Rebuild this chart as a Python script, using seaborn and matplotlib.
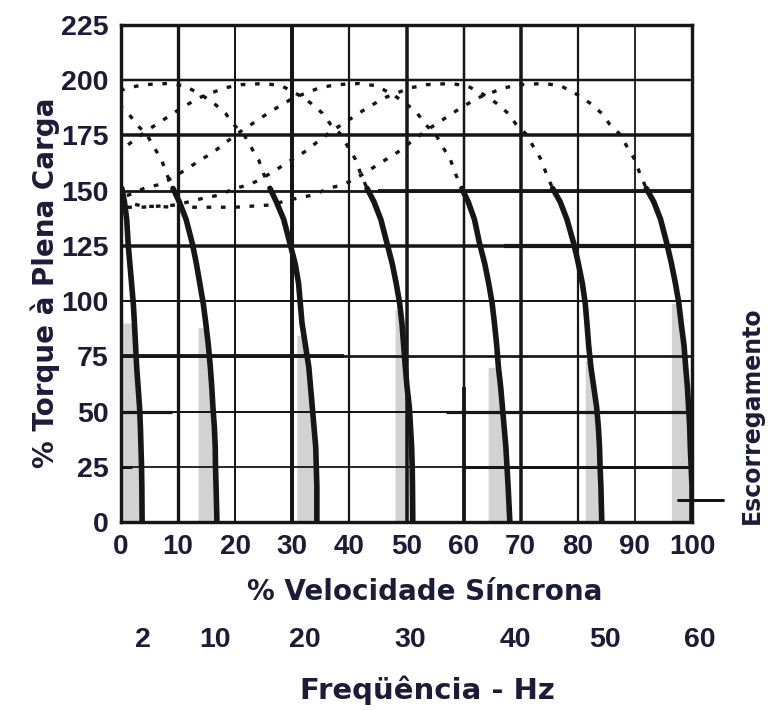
import numpy as np
import pandas as pd
import matplotlib
matplotlib.use("Agg")
import matplotlib.pyplot as plt
import matplotlib.transforms as mtransforms
import seaborn as sns

# ---------------- data ----------------
freq_labels = ["2", "10", "20", "30", "40", "50", "60"]
freq_label_speed = [3.9, 16.5, 32.2, 50.6, 69.0, 84.8, 101.4]
x_ticks = [0, 10, 20, 30, 40, 50, 60, 70, 80, 90, 100]
y_ticks = [0, 25, 50, 75, 100, 125, 150, 175, 200, 225]

# torque levels (y) at which the solid curves were read
solid_torque = [151, 145, 137, 126, 117, 108, 99, 90, 80, 70, 61, 52, 43, 34, 25, 16, 0]
# speed (x) of each solid curve at those torque levels
solid_2hz = [0.15, 0.6, 1.0, 1.25, 1.55, 1.85, 2.15, 2.35, 2.55, 2.75, 3.0, 3.25, 3.4, 3.5, 3.6, 3.65, 3.7]
solid_10hz = [9.1, 10.2, 11.4, 12.5, 13.2, 13.8, 14.4, 14.85, 15.3, 15.65, 15.9, 16.1, 16.35, 16.5, 16.55, 16.65, 16.8]
solid_20hz = [26.1, 27.2, 28.5, 29.6, 30.5, 31.1, 31.4, 31.7, 32.3, 32.9, 33.2, 33.5, 33.8, 34.1, 34.2, 34.3, 34.3]
solid_30hz = [43.1, 44.3, 45.5, 46.6, 47.5, 48.2, 48.8, 49.2, 49.5, 49.8, 50.1, 50.5, 50.7, 50.9, 51.0, 51.05, 51.1]
solid_40hz = [59.7, 60.8, 61.9, 62.8, 63.7, 64.4, 65.0, 65.4, 65.8, 66.1, 66.5, 66.8, 67.1, 67.4, 67.6, 67.8, 68.1]
solid_50hz = [75.6, 76.9, 78.1, 79.3, 80.1, 80.8, 81.3, 81.6, 81.9, 82.3, 82.8, 83.3, 83.6, 83.8, 83.9, 84.05, 84.2]
solid_60hz = [92.0, 93.3, 94.5, 95.6, 96.4, 97.1, 97.7, 98.1, 98.6, 98.9, 99.2, 99.4, 99.6, 99.7, 99.85, 100.0, 100.0]

# dotted part of the torque curve (read on the 60 Hz curve, speed %, torque %)
dot_speed = [0, 4, 10, 20, 26, 31, 33.6, 36.3, 38.7, 40.6, 43, 45.4, 48.5, 51,
             53.6, 56, 58, 60.2, 62.5, 65, 67, 70, 74, 77, 79.9, 82.1, 84.2,
             85.6, 87.4, 88.6, 90, 90.9, 92.0]
dot_torque = [145, 143, 142.5, 142.5, 143.5, 146.7, 148, 151, 152.6, 154.8, 158.5,
              162.5, 167.5, 172.5, 177.5, 181.5, 185, 188.5, 192, 194.5, 196.5,
              198, 198.5, 197.5, 193.5, 189.7, 185, 180, 175.5, 170, 164, 157.5, 151]

# shaded slip areas under each curve
gray_left = [0.3, 13.5, 30.8, 48.0, 64.3, 81.3, 96.4]
gray_top = [90, 88, 84.6, 96, 70, 73, 99]

slip_mark_torque = 10

# ---------------- styling ----------------
sns.set_theme(style="white")
plt.rcParams['font.family'] = ['Liberation Sans', 'DejaVu Sans']
TXT = '#1c1c3a'
INK = '#161616'
PX = 0.72  # points per pixel at 100 dpi

fig = plt.figure(figsize=(7.68, 7.10), dpi=100)
ax = fig.add_axes([121/768, 1-522/710, (692-121)/768, (522-25)/710])

solids = [solid_2hz, solid_10hz, solid_20hz, solid_30hz, solid_40hz, solid_50hz, solid_60hz]

# gray shaded areas
for xs, gl, gt in zip(solids, gray_left, gray_top):
    ys_rev = np.array(solid_torque[::-1], dtype=float)
    xs_rev = np.array(xs[::-1], dtype=float)
    x_at_top = np.interp(gt, ys_rev, xs_rev)
    yy = [gt] + [t for t in solid_torque if t < gt]
    xx = [x_at_top] + [x for x, t in zip(xs, solid_torque) if t < gt]
    ax.fill_betweenx(yy, gl, xx, color='#d2d2d2', lw=0, zorder=1)

# grid
ax.set_xlim(0, 100)
ax.set_ylim(0, 225)
ax.set_xticks(x_ticks)
ax.set_yticks(y_ticks)
ax.grid(True, color=INK, zorder=2)
ax.set_axisbelow(False)
xgrid_px = [0, 3.3, 2, 4, 2.2, 3.5, 2.5, 3.5, 2.2, 1.8, 0]
ygrid_px = [0, 1.8, 2, 2.7, 2, 3.5, 2.8, 3.5, 2.5, 0]
for gl_, w in zip(ax.xaxis.get_gridlines(), xgrid_px):
    gl_.set_linewidth(w * PX)
for gl_, w in zip(ax.yaxis.get_gridlines(), ygrid_px):
    gl_.set_linewidth(w * PX)

# extra heavy rule segments of the original drawing
seg_kw = dict(color=INK, zorder=2, solid_capstyle='butt')
ax.plot([0, 39], [75, 75], lw=3.8*PX, **seg_kw)
ax.plot([0, 9], [50, 50], lw=3.2*PX, **seg_kw)
ax.plot([57, 100], [50, 50], lw=3.2*PX, **seg_kw)
ax.plot([0, 2], [25, 25], lw=3*PX, **seg_kw)
ax.plot([60, 100], [25, 25], lw=3*PX, **seg_kw)
ax.plot([67, 100], [125, 125], lw=4.2*PX, **seg_kw)
ax.plot([45, 100], [150, 150], lw=3.8*PX, **seg_kw)
ax.plot([60, 60], [0, 61], lw=3.8*PX, **seg_kw)

# dotted portions
dot_frames = []
for lab, xs in zip(freq_labels[1:], solids[1:]):
    shift = xs[0] - dot_speed[-1]
    dot_frames.append(pd.DataFrame({'speed': np.array(dot_speed) + shift,
                                    'torque': dot_torque, 'freq': lab}))
dots = pd.concat(dot_frames, ignore_index=True)
n0 = len(ax.get_lines())
sns.lineplot(data=dots, x='speed', y='torque', units='freq', estimator=None,
             sort=False, color=INK, lw=2.4, ax=ax, zorder=3, legend=False)
for ln in ax.get_lines()[n0:]:
    ln.set_linestyle((0, (1.4, 2.9)))
    ln.set_dash_capstyle('butt')

# solid curves
solid_df = pd.concat([pd.DataFrame({'speed': xs, 'torque': solid_torque, 'freq': lab})
                      for lab, xs in zip(freq_labels, solids)], ignore_index=True)
sns.lineplot(data=solid_df, x='speed', y='torque', units='freq', estimator=None,
             sort=False, color=INK, lw=5.6*PX, ax=ax, zorder=4, legend=False)

for sp in ax.spines.values():
    sp.set_visible(True)
    sp.set_color(INK)
    sp.set_linewidth(3.4*PX)

ax.tick_params(axis='x', length=0, labelsize=20, colors=TXT, pad=9)
ax.tick_params(axis='y', length=0, labelsize=20.5, colors=TXT, pad=9)
for t in ax.get_xticklabels() + ax.get_yticklabels():
    t.set_fontweight('bold')
    t.set_color(TXT)
ax.set_xlabel('')
ax.set_ylabel('')

# slip marker
ax.plot([97.5, 105.4], [slip_mark_torque, slip_mark_torque], color=INK,
        lw=3*PX, clip_on=False, zorder=5)

# frequency row
trans = mtransforms.blended_transform_factory(ax.transData, fig.transFigure)
for lab, xp in zip(freq_labels, freq_label_speed):
    ax.text(xp, 1-640/710, lab, transform=trans, ha='center', va='center',
            fontsize=20.5, fontweight='bold', color=TXT)

LBL = ['DejaVu Sans']
fig.text(425/768, 1-592/710, '% Velocidade Síncrona', ha='center', va='center',
         fontsize=20, fontweight='bold', color=TXT, family=LBL)
fig.text(427/768, 1-690/710, 'Freqüência - Hz', ha='center', va='center',
         fontsize=21, fontweight='bold', color=TXT, family=LBL)
fig.text(45/768, 1-283/710, '% Torque à Plena Carga', rotation=90, ha='center',
         va='center', fontsize=20, fontweight='bold', color=TXT, family=LBL)
fig.text(752/768, 1-415/710, 'Escorregamento', rotation=90, ha='center',
         va='center', fontsize=17, fontweight='bold', color=TXT, family=LBL)

fig.savefig('out.png', dpi=100)
